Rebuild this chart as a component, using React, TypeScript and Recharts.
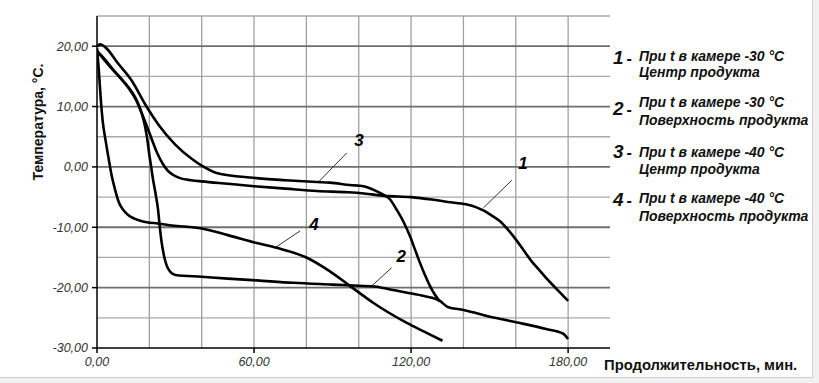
import React from 'react';
import { LineChart, Line, XAxis, YAxis, CartesianGrid, ReferenceLine, ReferenceDot } from 'recharts';

// Curve 1: center of product, chamber -30 °C
const c1X = [0, 3, 6, 9, 12, 15, 17, 19, 21, 23, 25, 27, 29, 32, 36, 40, 50, 60, 72, 84, 96, 102, 110, 120, 128, 134, 141, 145, 148, 151, 154, 157, 160, 163, 166, 169, 172, 176, 180];
const c1Y = [19.2, 17.8, 16.2, 14.7, 13.1, 11.0, 9.0, 6.8, 4.5, 2.3, 0.6, -0.6, -1.3, -1.9, -2.2, -2.4, -2.8, -3.2, -3.6, -4.0, -4.2, -4.4, -4.8, -5.0, -5.4, -5.8, -6.2, -6.7, -7.3, -8.1, -9.0, -10.4, -12.0, -13.8, -15.6, -17.1, -18.6, -20.4, -22.2];

// Curve 2: surface of product, chamber -30 °C
const c2X = [0, 3, 6, 9, 12, 14.5, 16, 17.2, 18.3, 19.2, 20, 20.7, 21.3, 22.2, 23.3, 24, 24.7, 25.5, 26.5, 28, 30, 40, 50, 61, 75, 90, 100, 106, 112, 118, 125, 131, 134, 140, 152, 162, 172, 178, 180];
const c2Y = [19.2, 17.6, 16.1, 14.7, 13.2, 11.6, 10.2, 8.7, 6.8, 4.6, 2.0, 0.0, -1.8, -4.0, -7.0, -10.0, -12.5, -14.5, -16.2, -17.4, -17.9, -18.2, -18.5, -18.8, -19.2, -19.5, -19.7, -19.8, -20.3, -20.8, -21.4, -22.2, -23.2, -23.7, -25.0, -25.9, -26.9, -27.6, -28.5];

// Curve 3: center of product, chamber -40 °C
const c3X = [0, 1.3, 3.2, 8.3, 13.4, 18.5, 23.5, 29.9, 36.3, 40, 45.7, 59.7, 72, 84, 89, 96.6, 101.8, 106.7, 109.4, 112, 114.5, 117, 119.6, 121.5, 123.4, 125.3, 127.2, 129, 131];
const c3Y = [20, 20.3, 19.8, 17.0, 14.2, 10.3, 7.0, 3.7, 1.3, 0.2, -1.0, -1.8, -2.2, -2.5, -2.6, -3.0, -3.2, -4.0, -4.6, -5.4, -7.1, -9.0, -11.5, -13.7, -15.9, -17.9, -19.7, -21.1, -22.3];

// Curve 4: surface of product, chamber -40 °C
const c4X = [0, 0.7, 1.4, 2.2, 3.2, 4.4, 5.5, 6.8, 8.3, 10, 12, 14.5, 17.2, 23.5, 28.6, 40, 50, 61, 68.6, 80, 89, 96.6, 105.5, 118.2, 125, 132];
const c4Y = [19.7, 16, 11.5, 7.5, 4.6, 1.5, -1.2, -3.6, -5.8, -7.1, -8.0, -8.6, -9.0, -9.4, -9.7, -10.2, -11.3, -12.6, -13.4, -15.0, -17.3, -19.7, -22.5, -25.8, -27.3, -28.8];

const xTicks = [0, 60, 120, 180];
const yTicks = [-30, -20, -10, 0, 10, 20];
const yMajor = [20, 10, 0, -10, -20];
const yMinor = [25, 15, 5, -5, -15, -25];
const xGrid = [20, 40, 60, 80, 100, 120, 140, 160, 180];

// Curve number annotations: label position and leader line (data coords)
const curveLabels = [
  { name: '1', lx: 162.8, ly: 0.7, x1: 158.5, y1: -2.2, x2: 147.6, y2: -6.8 },
  { name: '2', lx: 116.2, ly: -14.7, x1: 112.6, y1: -16.7, x2: 105, y2: -19.7 },
  { name: '3', lx: 100.1, ly: 4.5, x1: 95.4, y1: 2.3, x2: 84.6, y2: -2.5 },
  { name: '4', lx: 82.9, ly: -9.4, x1: 77.6, y1: -10.6, x2: 68, y2: -13.4 },
];

const legendNums = ['1', '2', '3', '4'];
const legendLine1 = ['При t в камере -30 °С', 'При t в камере -30 °С', 'При t в камере -40 °С', 'При t в камере -40 °С'];
const legendLine2 = ['Центр продукта', 'Поверхность продукта', 'Центр продукта', 'Поверхность продукта'];
const legendNumY = [64, 115, 158, 206];
const legendL1Y = [61, 107, 157, 203];
const legendL2Y = [77, 125, 174, 221];

const xTitle = 'Продолжительность, мин.';
const yTitle = 'Температура, °С.';

const toData = (xs: number[], ys: number[]) => xs.map((x, i) => ({ x, y: ys[i] }));
const fmt = (v: number) => v.toFixed(2).replace('.', ',');

const FONT = '"Liberation Sans", Arial, sans-serif';
const tickStyle = { fontSize: 12.5, fontStyle: 'italic', fill: '#333', fontFamily: FONT };

export default function App() {
  const series = [toData(c1X, c1Y), toData(c2X, c2Y), toData(c3X, c3Y), toData(c4X, c4Y)];
  return (
    <div style={{ position: 'absolute', left: 0, top: 0, width: 819, height: 383, background: '#f0f0f0', fontFamily: FONT }}>
      <div style={{ position: 'absolute', left: 0, top: 0, width: 812, height: 377, background: '#fff', borderRight: '1px solid #d0d0d0', borderBottom: '1px solid #d0d0d0' }} />
      <div style={{ position: 'absolute', left: 0, top: 0 }}>
        <LineChart width={819} height={383} margin={{ top: 16, right: 209, bottom: 5, left: 0 }}>
          <CartesianGrid horizontalValues={yMinor} vertical={false} stroke="#a8a8a8" strokeWidth={1.3} fill="none" />
          <CartesianGrid verticalValues={xGrid} horizontal={false} stroke="#a0a0a0" strokeWidth={1.3} fill="none" />
          <CartesianGrid horizontalValues={yMajor} vertical={false} stroke="#6e6e6e" strokeWidth={1.8} fill="none" />
          <XAxis
            type="number"
            dataKey="x"
            domain={[0, 196]}
            ticks={xTicks}
            tickFormatter={fmt}
            allowDataOverflow
            height={30}
            stroke="#000"
            strokeWidth={1.5}
            tickSize={5}
            tickMargin={4}
            tick={tickStyle}
          />
          <YAxis
            type="number"
            dataKey="y"
            domain={[-30, 25]}
            ticks={yTicks}
            tickFormatter={fmt}
            allowDataOverflow
            width={97}
            stroke="#000"
            strokeWidth={1.5}
            tickSize={5}
            tickMargin={4}
            tick={tickStyle}
          />
          {curveLabels.map((c) => (
            <ReferenceLine key={'l' + c.name} segment={[{ x: c.x1, y: c.y1 }, { x: c.x2, y: c.y2 }]} stroke="#333" strokeWidth={1} />
          ))}
          {series.map((d, i) => (
            <Line key={i} data={d} dataKey="y" type="monotone" stroke="#000" strokeWidth={2.6} dot={false} isAnimationActive={false} />
          ))}
          {curveLabels.map((c) => (
            <ReferenceDot
              key={'d' + c.name}
              x={c.lx}
              y={c.ly}
              r={0}
              fill="none"
              stroke="none"
              label={{ value: c.name, position: 'center', fontSize: 17, fontStyle: 'italic', fontWeight: 'bold', fill: '#000', fontFamily: FONT }}
            />
          ))}
        </LineChart>
      </div>
      <svg width={819} height={383} style={{ position: 'absolute', left: 0, top: 0, pointerEvents: 'none' }} fontFamily={FONT}>
        <text x={38} y={122} transform="rotate(-90 38 122)" textAnchor="middle" dominantBaseline="central" fontSize={14} fontWeight="bold" fill="#111">{yTitle}</text>
        <text x={604} y={370} fontSize={14.8} fontWeight="bold" fill="#111">{xTitle}</text>
        {legendNums.map((n, i) => (
          <g key={i}>
            <text x={613} y={legendNumY[i]} fontWeight="bold" fontStyle="italic" fill="#111">
              <tspan fontSize={19}>{n}</tspan>
              <tspan fontSize={16} dx={3}>-</tspan>
            </text>
            <text x={639} y={legendL1Y[i]} fontSize={14} fontWeight="bold" fontStyle="italic" fill="#111">{legendLine1[i]}</text>
            <text x={639} y={legendL2Y[i]} fontSize={14} fontWeight="bold" fontStyle="italic" fill="#111">{legendLine2[i]}</text>
          </g>
        ))}
      </svg>
    </div>
  );
}
